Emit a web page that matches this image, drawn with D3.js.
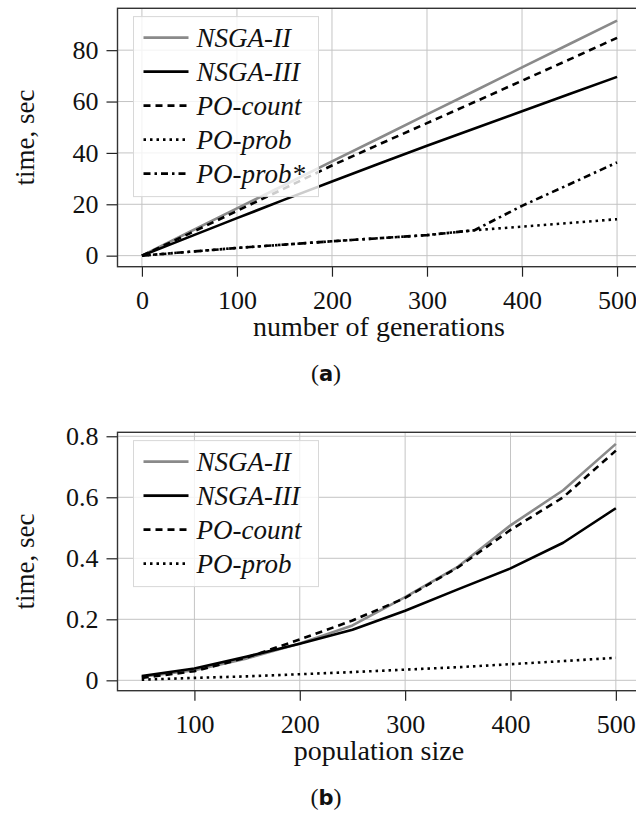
<!DOCTYPE html>
<html>
<head>
<meta charset="utf-8">
<script src="https://cdn.jsdelivr.net/npm/d3@7"></script>
<style>
  html, body { margin: 0; padding: 0; background: #fff; }
  svg { display: block; }
  svg text { font-family: "Liberation Serif", "DejaVu Serif", serif; fill: #111; }
</style>
</head>
<body>
<script>
// ---------- Data ----------
const genX = [0, 50, 100, 150, 200, 250, 300, 350, 400, 450, 500];
const genNSGA2   = [0, 9.2, 18.4, 27.5, 36.7, 45.8, 55.0, 64.1, 73.3, 82.4, 91.5];
const genNSGA3   = [0, 7.3, 14.6, 21.8, 28.9, 35.9, 42.8, 49.5, 56.2, 62.9, 69.6];
const genPOcount = [0, 8.6, 17.4, 26.2, 35.1, 43.4, 51.6, 59.8, 68.1, 76.4, 84.8];
const genPOprob  = [0, 1.5, 3.0, 4.3, 5.6, 6.8, 8.0, 9.9, 11.3, 12.7, 14.2];
const genPOprobS = [0, 1.5, 3.0, 4.3, 5.6, 6.8, 8.0, 9.9, 19.4, 27.8, 36.3];
const genTicksX = [0, 100, 200, 300, 400, 500];
const genTicksY = [0, 20, 40, 60, 80];

const popX = [50, 100, 150, 200, 250, 300, 350, 400, 450, 500];
const popNSGA2   = [0.012, 0.033, 0.072, 0.121, 0.180, 0.273, 0.372, 0.508, 0.623, 0.775];
const popNSGA3   = [0.014, 0.039, 0.078, 0.120, 0.166, 0.228, 0.298, 0.367, 0.451, 0.564];
const popPOcount = [0.008, 0.030, 0.075, 0.134, 0.196, 0.270, 0.370, 0.493, 0.600, 0.753];
const popPOprob  = [0.002, 0.008, 0.013, 0.020, 0.027, 0.035, 0.043, 0.053, 0.063, 0.074];
const popTicksX = [100, 200, 300, 400, 500];
const popTicksY = [0, 0.2, 0.4, 0.6, 0.8];

const seriesNames = ["NSGA-II", "NSGA-III", "PO-count", "PO-prob", "PO-prob*"];

// ---------- Styles ----------
const styles = {
  "NSGA-II":  { color: "#8a8a8a", dash: null },
  "NSGA-III": { color: "#000", dash: null },
  "PO-count": { color: "#000", dash: "7,5" },
  "PO-prob":  { color: "#000", dash: "2.5,4" },
  "PO-prob*": { color: "#000", dash: "7,4,2.5,4" }
};

const SERIF = '"Liberation Serif", "DejaVu Serif", serif';
const W = 636, H = 817;
const svg = d3.select("body").append("svg").attr("width", W).attr("height", H);

function panel(cfg) {
  const g = svg.append("g");
  const x = d3.scaleLinear().domain(cfg.xDom).range([117.5, 660]);
  const y = d3.scaleLinear().domain(cfg.yDom).range([cfg.bottom, cfg.top]);
  const x0 = 117.5, x1 = 660;

  // grid
  g.append("g").selectAll("line").data(cfg.xTicks).join("line")
    .attr("x1", d => x(d)).attr("x2", d => x(d))
    .attr("y1", cfg.top).attr("y2", cfg.bottom)
    .attr("stroke", "#c4c4c4").attr("stroke-width", 1);
  g.append("g").selectAll("line").data(cfg.yTicks).join("line")
    .attr("x1", x0).attr("x2", x1)
    .attr("y1", d => y(d)).attr("y2", d => y(d))
    .attr("stroke", "#c4c4c4").attr("stroke-width", 1);

  // axes
  const xAxis = d3.axisBottom(x).tickValues(cfg.xTicks).tickSize(10).tickPadding(14).tickFormat(d3.format("d"));
  const gx = g.append("g").attr("transform", `translate(0,${cfg.bottom})`).call(xAxis);
  const yAxis = d3.axisLeft(y).tickValues(cfg.yTicks).tickSize(11).tickPadding(8).tickFormat(cfg.yFmt);
  const gy = g.append("g").attr("transform", `translate(${x0},0)`).call(yAxis);
  [gx, gy].forEach(a => {
    a.attr("font-family", SERIF).attr("font-size", 26);
    a.select(".domain").remove();
    a.selectAll(".tick line").attr("stroke", "#222").attr("stroke-width", 1.2);
    a.selectAll(".tick text").style("font-family", SERIF)
      .style("font-size", "26px").attr("fill", "#111");
  });

  // frame
  g.append("rect").attr("x", x0).attr("y", cfg.top)
    .attr("width", x1 - x0).attr("height", cfg.bottom - cfg.top)
    .attr("fill", "none").attr("stroke", "#333").attr("stroke-width", 1.4);

  // lines
  const line = d3.line().x(d => x(d[0])).y(d => y(d[1]));
  const clip = "clip" + cfg.id;
  svg.append("clipPath").attr("id", clip).append("rect")
    .attr("x", x0).attr("y", cfg.top).attr("width", x1 - x0).attr("height", cfg.bottom - cfg.top);
  const lg = g.append("g").attr("clip-path", `url(#${clip})`);
  cfg.series.forEach(s => {
    const st = styles[s.name];
    lg.append("path")
      .datum(cfg.xs.map((v, i) => [v, s.values[i]]))
      .attr("d", line)
      .attr("fill", "none")
      .attr("stroke", st.color)
      .attr("stroke-width", 2.6)
      .attr("stroke-linejoin", "round")
      .attr("stroke-dasharray", st.dash);
  });

  // legend
  const lgx = 133.5, lgy = cfg.top + 8.3, rowH = 34;
  const n = cfg.series.length;
  const leg = g.append("g");
  leg.append("rect").attr("x", lgx).attr("y", lgy)
    .attr("width", 185).attr("height", n * rowH + 10)
    .attr("fill", "#fff").attr("fill-opacity", 0.8)
    .attr("stroke", "#d8d8d8").attr("stroke-width", 1);
  cfg.series.forEach((s, i) => {
    const st = styles[s.name];
    const yy = lgy + 21 + i * rowH;
    leg.append("line").attr("x1", lgx + 10).attr("x2", lgx + 55)
      .attr("y1", yy).attr("y2", yy)
      .attr("stroke", st.color).attr("stroke-width", 2.6)
      .attr("stroke-dasharray", st.dash);
    leg.append("text").attr("x", lgx + 63).attr("y", yy + 9)
      .style("font-family", SERIF)
      .style("font-style", "italic").style("font-size", "27px")
      .text(s.name);
  });

  // axis titles
  g.append("text")
    .attr("transform", `translate(${cfg.yLabelX},${(cfg.top + cfg.bottom) / 2}) rotate(-90)`)
    .attr("text-anchor", "middle").style("font-family", SERIF).style("font-size", "27px").text("time, sec");
  g.append("text").attr("x", 379).attr("y", cfg.xLabelY)
    .attr("text-anchor", "middle").style("font-family", SERIF).style("font-size", "28px").text(cfg.xLabel);

  // caption
  const cap = g.append("text").attr("x", 326).attr("y", cfg.capY)
    .attr("text-anchor", "middle").style("font-family", SERIF).style("font-size", "24px");
  cap.append("tspan").text("(");
  cap.append("tspan").style("font-weight", "bold").style("font-family", '"DejaVu Sans", sans-serif').style("font-size", "21px").text(cfg.cap);
  cap.append("tspan").text(")");
}

panel({
  id: "a",
  xs: genX,
  xDom: [-25.7, 545.2],
  yDom: [-4.3, 96.3],
  top: 8.3, bottom: 266.7,
  xTicks: genTicksX, yTicks: genTicksY,
  yFmt: d3.format("d"),
  series: [
    { name: "NSGA-II", values: genNSGA2 },
    { name: "NSGA-III", values: genNSGA3 },
    { name: "PO-count", values: genPOcount },
    { name: "PO-prob", values: genPOprob },
    { name: "PO-prob*", values: genPOprobS }
  ],
  yLabelX: 34,
  xLabel: "number of generations", xLabelY: 336,
  cap: "a", capY: 381
});

panel({
  id: "b",
  xs: popX,
  xDom: [27, 541.9],
  yDom: [-0.034, 0.813],
  top: 432.3, bottom: 690.7,
  xTicks: popTicksX, yTicks: popTicksY,
  yFmt: d => d === 0 ? "0" : d3.format(".1f")(d),
  series: [
    { name: "NSGA-II", values: popNSGA2 },
    { name: "NSGA-III", values: popNSGA3 },
    { name: "PO-count", values: popPOcount },
    { name: "PO-prob", values: popPOprob }
  ],
  yLabelX: 34,
  xLabel: "population size", xLabelY: 760,
  cap: "b", capY: 805
});
</script>
</body>
</html>
